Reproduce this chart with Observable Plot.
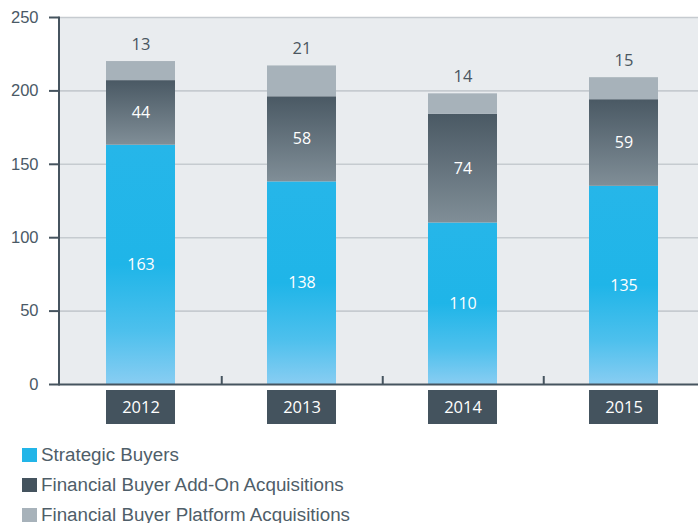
<!DOCTYPE html>
<html><head><meta charset="utf-8">
<script src="https://cdn.jsdelivr.net/npm/d3@7"></script>
<script src="https://cdn.jsdelivr.net/npm/@observablehq/plot@0.6"></script>
<style>
body{margin:0;background:#fff;width:698px;height:523px;overflow:hidden;font-family:"Liberation Sans",Arial,sans-serif;}
#chart svg{display:block;overflow:visible}
#legend{padding-left:22px;margin-top:3.6px}
.row{display:flex;align-items:center;height:30.3px;font-size:18.8px;color:#4f5e69;white-space:nowrap}
.sw{width:15px;height:14px;margin-right:4px;flex:none}
</style></head><body>
<svg width="0" height="0" style="position:absolute"><defs>
<linearGradient id="gStrat" x1="0" y1="0" x2="0" y2="1">
<stop offset="0" stop-color="#26b6e9"/>
<stop offset="0.5" stop-color="#1fb5e8"/>
<stop offset="0.78" stop-color="#4dc0ed"/>
<stop offset="1" stop-color="#88cdf2"/>
</linearGradient>
<linearGradient id="gAdd" x1="0" y1="0" x2="0" y2="1">
<stop offset="0" stop-color="#4a5964"/>
<stop offset="1" stop-color="#808e97"/>
</linearGradient>
</defs></svg>
<div id="chart"></div>
<div id="legend"></div>
<script>
const years = ["2012", "2013", "2014", "2015"];
const seriesNames = ["Strategic Buyers", "Financial Buyer Add-On Acquisitions", "Financial Buyer Platform Acquisitions"];
const strategic = [163, 138, 110, 135];
const addOn = [44, 58, 74, 59];
const platform = [13, 21, 14, 15];
const yTicks = [0, 50, 100, 150, 200, 250];
const legendColors = ["#22b5e8", "#44535e", "#a7b2ba"];
const seriesFills = ["url(#gStrat)", "url(#gAdd)", "#a7b2ba"];

const data = years.flatMap((y, i) => [
  {year: y, series: seriesNames[0], value: strategic[i]},
  {year: y, series: seriesNames[1], value: addOn[i]},
  {year: y, series: seriesNames[2], value: platform[i]}
]);

const axisColor = "#46545f";
const numFont = "'Open Sans', sans-serif";

const chart = Plot.plot({
  width: 698, height: 436,
  marginLeft: 58.5, marginRight: 0, marginTop: 17, marginBottom: 52,
  style: {fontFamily: "'Liberation Sans', Arial, sans-serif", background: "transparent", overflow: "visible"},
  x: {domain: years, range: [58.5, 704.5], paddingInner: 0.573, paddingOuter: 0.2865, axis: null},
  y: {domain: [0, 250], axis: null},
  color: {domain: seriesNames, range: seriesFills},
  marks: [
    Plot.frame({fill: "#e9ecef", stroke: null}),
    Plot.ruleY(yTicks.slice(1), {stroke: "#c6cbd0", strokeWidth: 1.6}),
    Plot.barY(data, {x: "year", y: "value", fill: "series"}),
    Plot.text(data, Plot.filter(d => d.series !== seriesNames[2],
      Plot.stackY({x: "year", y: "value", text: "value", fill: "white", fontSize: 16, fontFamily: numFont}))),
    Plot.text(data, Plot.filter(d => d.series === seriesNames[2],
      Plot.stackY2({x: "year", y: "value", text: "value", dy: -17, fill: "#4a5660", fontSize: 16.5, fontFamily: numFont}))),
    Plot.barY(years, {x: d => d, y1: 0, y2: 0, insetTop: -34, dy: 40, fill: "#44535e"}),
    Plot.text(years, {x: d => d, y: 0, dy: 23.5, text: d => d, fill: "white", fontSize: 16.5, fontFamily: numFont}),
    Plot.ruleX(years.slice(0, 3), {x: d => d, y1: 0, y2: 0, insetTop: -8, dx: 80.75, stroke: axisColor, strokeWidth: 2}),
    Plot.axisY(yTicks, {label: null, tickSize: 9.5, tickPadding: 11, fontSize: 16.5, stroke: axisColor, fill: "#4a5966", strokeWidth: 2}),
    Plot.frame({anchor: "left", stroke: axisColor, strokeWidth: 2}),
    Plot.ruleY([0], {stroke: axisColor, strokeWidth: 2})
  ]
});
document.getElementById("chart").append(chart);

const legend = document.getElementById("legend");
seriesNames.forEach((name, i) => {
  const row = document.createElement("div");
  row.className = "row";
  const sw = document.createElement("span");
  sw.className = "sw";
  sw.style.background = legendColors[i];
  const label = document.createElement("span");
  label.textContent = name;
  row.append(sw, label);
  legend.append(row);
});
</script>
</body></html>
